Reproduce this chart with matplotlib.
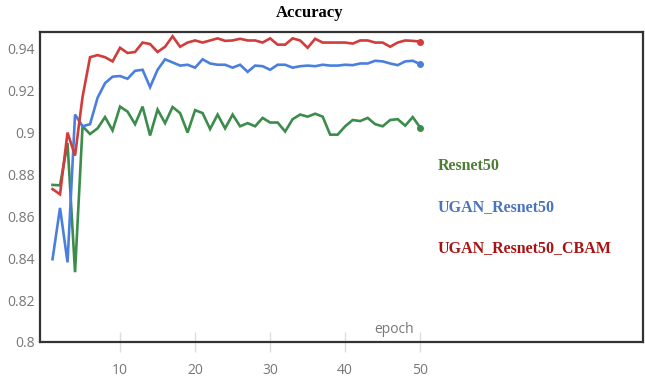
import numpy as np
import matplotlib.pyplot as plt

epochs = np.arange(1, 51)

resnet50 = [0.875, 0.8748, 0.895, 0.8333, 0.903, 0.8993, 0.902, 0.9074, 0.901, 0.9124,
            0.910, 0.904, 0.9124, 0.8986, 0.911, 0.9045, 0.9122, 0.9093, 0.900, 0.9107,
            0.9093, 0.9017, 0.9086, 0.902, 0.9086, 0.903, 0.9045, 0.903, 0.907, 0.9048,
            0.9048, 0.9005, 0.9064, 0.9086, 0.9076, 0.909, 0.9076, 0.899, 0.899, 0.903,
            0.906, 0.9055, 0.907, 0.904, 0.903, 0.906, 0.9064, 0.9033, 0.9074, 0.9024]

ugan_resnet50 = [0.8395, 0.864, 0.838, 0.9086, 0.903, 0.904, 0.9166, 0.9236, 0.9267, 0.927,
                 0.9257, 0.9295, 0.930, 0.9217, 0.930, 0.935, 0.9335, 0.932, 0.9324, 0.931,
                 0.935, 0.933, 0.9324, 0.9324, 0.931, 0.9324, 0.929, 0.932, 0.9317, 0.930,
                 0.9324, 0.9324, 0.931, 0.9317, 0.932, 0.9317, 0.9324, 0.932, 0.932, 0.9324,
                 0.9322, 0.933, 0.933, 0.9343, 0.934, 0.933, 0.9322, 0.934, 0.9343, 0.9327]

ugan_resnet50_cbam = [0.873, 0.8705, 0.900, 0.889, 0.917, 0.936, 0.937, 0.936, 0.934, 0.9405,
                      0.938, 0.9385, 0.943, 0.9423, 0.9385, 0.941, 0.946, 0.941, 0.943, 0.944,
                      0.943, 0.944, 0.945, 0.9438, 0.944, 0.9448, 0.944, 0.944, 0.943, 0.945,
                      0.942, 0.942, 0.945, 0.944, 0.9405, 0.9448, 0.943, 0.943, 0.943, 0.943,
                      0.9425, 0.944, 0.944, 0.943, 0.943, 0.941, 0.943, 0.944, 0.9438, 0.9435]

series = [
    ("Resnet50", resnet50, "#3c8c4c", "#4e7d37"),
    ("UGAN_Resnet50", ugan_resnet50, "#4a80dc", "#4a73bd"),
    ("UGAN_Resnet50_CBAM", ugan_resnet50_cbam, "#d23c3c", "#a81414"),
]

yticks = [0.8, 0.82, 0.84, 0.86, 0.88, 0.9, 0.92, 0.94]
xticks = [10, 20, 30, 40, 50]

fig = plt.figure(figsize=(6.45, 3.82), dpi=100)
ax = fig.add_axes([0.062, 0.105, 0.935, 0.811])

for name, vals, color, _ in series:
    ax.plot(epochs, vals, color=color, lw=1.9, solid_joinstyle="miter")
    ax.plot(epochs[-1], vals[-1], "o", color=color, ms=4)

ax.set_xlim(-0.67, 79.7)
ax.set_ylim(0.8, 0.948)
ax.set_yticks(yticks)
ax.set_yticklabels([f"{v:g}" for v in yticks])
ax.set_xticks(xticks)

tick_font = dict(family="Open Sans", size=10, color="#777777")
for lab in ax.get_yticklabels() + ax.get_xticklabels():
    lab.set_fontfamily("Open Sans")
    lab.set_fontsize(10)
    lab.set_color("#777777")
ax.tick_params(axis="y", length=0, pad=4)
ax.tick_params(axis="x", direction="inout", length=14, width=1, color="#dddddd", pad=8)

for sp in ax.spines.values():
    sp.set_color("#333333")
    sp.set_linewidth(1.6)

ax.text(49.1, 0.8025, "epoch", ha="right", va="bottom", **tick_font)

label_y = [0.8838, 0.8643, 0.8448]
for (name, _, _, tcolor), y in zip(series, label_y):
    ax.text(52.3, y, name, color=tcolor, fontsize=11.5, fontweight="bold",
            family="Liberation Serif", va="center", ha="left")

fig.text(0.48, 0.965, "Accuracy", ha="center", va="center", fontsize=12,
         fontweight="bold", family="Liberation Serif")

fig.savefig("out.png", dpi=100)
